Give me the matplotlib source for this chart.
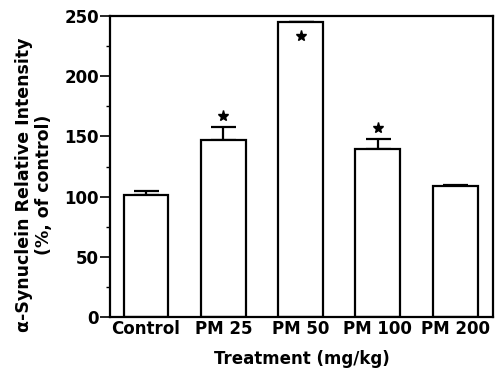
import matplotlib
matplotlib.use("Agg")
import matplotlib.pyplot as plt
import numpy as np

plt.rcParams['font.family'] = ['DejaVu Sans']

categories = ["Control", "PM 25", "PM 50", "PM 100", "PM 200"]
means = [101, 147, 245, 139.5, 108.5]
sem_up = [3.5, 11, 0, 8.5, 1]
significant = [False, True, True, True, False]

fig = plt.figure(figsize=(4.95, 3.7), dpi=100)
ax = fig.add_axes([110 / 495, 1 - 317 / 370, 383 / 495, 301 / 370])

x = np.arange(len(categories))
ax.bar(x, means, width=0.58, color="white", edgecolor="black", linewidth=1.6, zorder=2)
ax.errorbar(x, means, yerr=[np.zeros(len(sem_up)), sem_up], fmt="none",
            ecolor="black", elinewidth=1.6, capsize=9, capthick=1.6, zorder=1)

# stars above error bars, the tallest bar gets its star inside
for xi, m, s, sig in zip(x, means, sem_up, significant):
    if not sig:
        continue
    ys = m - 12 if m + s > 230 else m + s + 9
    ax.plot(xi, ys, marker="*", markersize=8, color="black", zorder=3)

ax.set_xlim(-0.466, 4.49)
ax.set_ylim(0, 250)
ax.set_xticks(x)
ax.set_xticklabels(categories, fontsize=12, fontweight="bold")
ax.set_yticks(np.arange(0, 251, 50))
ax.set_yticks(np.arange(25, 250, 50), minor=True)
ax.set_yticklabels([str(v) for v in range(0, 251, 50)], fontsize=12, fontweight="bold")
ax.tick_params(axis="x", length=0, pad=2)
ax.tick_params(axis="y", which="major", length=7, width=1.2, direction="out", pad=1)
ax.tick_params(axis="y", which="minor", length=3, width=1.0, direction="out")
for sp in ax.spines.values():
    sp.set_linewidth(1.6)

ax.set_xlabel("Treatment (mg/kg)", fontsize=12, fontweight="bold", labelpad=9)
ax.set_ylabel("α-Synuclein Relative Intensity\n(%, of control)", fontsize=12.5,
              fontweight="bold", labelpad=8, linespacing=1.15)
ax.yaxis.label.set_y(0.44)

fig.savefig("out.png", dpi=100, facecolor="white")
